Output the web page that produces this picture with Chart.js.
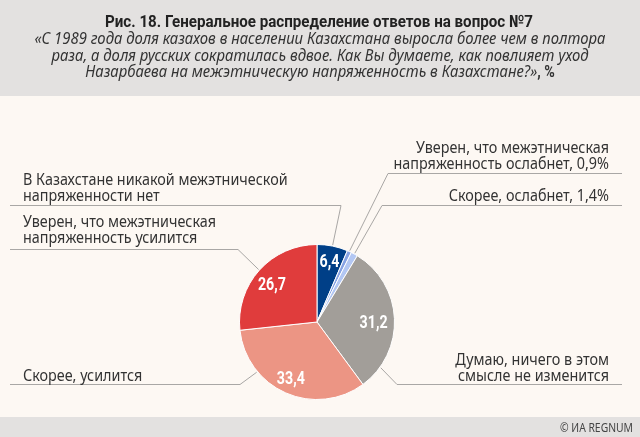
<!DOCTYPE html>
<html lang="ru">
<head>
  <meta charset="UTF-8">
  <title>Рис. 18</title>
  <script src="https://cdn.jsdelivr.net/npm/chart.js"></script>
  <style>
    body { margin: 0; padding: 0; background: #fdf8f3; }
    canvas { display: block; }
  </style>
</head>
<body>
  <canvas id="chart" width="640" height="437"></canvas>
  <script>
    // data (order: clockwise from 12 o'clock)
    const categories = [
      ['В Казахстане никакой межэтнической', 'напряженности нет'],
      ['Уверен, что межэтническая', 'напряженность ослабнет'],
      ['Скорее, ослабнет'],
      ['Думаю, ничего в этом', 'смысле не изменится'],
      ['Скорее, усилится'],
      ['Уверен, что межэтническая', 'напряженность усилится']
    ];
    const values = [6.4, 0.9, 1.4, 31.2, 33.4, 26.7];
    const colors = ['#003f87', '#87a3e4', '#b3c7f3', '#a29e99', '#ec9584', '#e03c3c'];

    const titleText = 'Рис. 18. Генеральное распределение ответов на вопрос №7';
    const subtitleLines = [
      '«С 1989 года доля казахов в населении Казахстана выросла более чем в полтора',
      'раза, а доля русских сократилась вдвое. Как Вы думаете, как повлияет уход',
      'Назарбаева на межэтническую напряженность в Казахстане?»'
    ];
    const sourceText = '© ИА REGNUM';

    // callout layout: where the text sits, where the leader line bends,
    // and where inside the slice (angle fraction / radius fraction) the value goes
    const callouts = [
      { side: 'left',  baselines: [185, 201], elbow: [341, 205], lineY: 205, at: 0.5,  vAt: 0.5,  vR: 0.8 },
      { side: 'right', baselines: [153, 169], elbow: [388, 173], lineY: 173, at: 0.5, withValue: true },
      { side: 'right', baselines: [201],      elbow: [382, 205], lineY: 205, at: 0.5, withValue: true },
      { side: 'right', baselines: [365, 381], elbow: [397, 384], lineY: 384, at: 0.84, vAt: 0.53, vR: 0.73 },
      { side: 'left',  baselines: [381],      elbow: [240, 384], lineY: 384, at: 0.72, vAt: 0.51, vR: 0.8 },
      { side: 'left',  baselines: [227, 243], elbow: [238, 249], lineY: 249, at: 0.5,  vAt: 0.48, vR: 0.76 }
    ];

    const fmt = v => v.toFixed(1).replace('.', ',');

    // draw text squeezed horizontally by sx
    function drawText(ctx, text, x, y, align, sx) {
      ctx.save();
      ctx.translate(x, y);
      ctx.scale(sx, 1);
      ctx.textAlign = align;
      ctx.fillText(text, 0, 0);
      ctx.restore();
    }
    function fitScale(ctx, font, text, width) {
      ctx.font = font;
      return width / ctx.measureText(text).width;
    }

    const FONT_TITLE = 'bold 17px Roboto, sans-serif';
    const FONT_SUB = 'italic 16px "Noto Sans", "Open Sans", sans-serif';
    const FONT_SUB_BOLD = 'bold 16px Roboto, sans-serif';
    const FONT_LABEL = '16px "Noto Sans", "Open Sans", sans-serif';
    const FONT_VALUE = 'bold 18px Roboto, sans-serif';
    const FONT_SOURCE = '13px "Noto Sans", sans-serif';

    const backdrop = {
      id: 'backdrop',
      beforeDraw(chart) {
        const ctx = chart.ctx;
        ctx.save();
        ctx.fillStyle = '#fdf8f3';
        ctx.fillRect(0, 0, 640, 437);
        ctx.fillStyle = '#e3e1e0';
        ctx.fillRect(0, 0, 640, 96);
        ctx.fillRect(0, 417, 640, 20);

        // header
        ctx.textBaseline = 'alphabetic';
        ctx.fillStyle = '#222';
        let sx = fitScale(ctx, FONT_TITLE, titleText, 428);
        drawText(ctx, titleText, 319, 27, 'center', sx);

        ctx.fillStyle = '#333';
        const ssx = fitScale(ctx, FONT_SUB, subtitleLines[0], 571);
        ctx.font = FONT_SUB;
        drawText(ctx, subtitleLines[0], 320, 44, 'center', ssx);
        drawText(ctx, subtitleLines[1], 320, 60.5, 'center', ssx);
        // last line: italic question + bold ", %"
        const wA = ctx.measureText(subtitleLines[2]).width * ssx;
        const tail = ', %';
        const bsx = fitScale(ctx, FONT_TITLE, titleText, 428);
        ctx.font = FONT_SUB_BOLD;
        const wB = ctx.measureText(tail).width * bsx;
        const x0 = 320 - (wA + wB) / 2;
        ctx.font = FONT_SUB;
        drawText(ctx, subtitleLines[2], x0, 77, 'left', ssx);
        ctx.font = FONT_SUB_BOLD;
        drawText(ctx, tail, x0 + wA, 77, 'left', bsx);

        // source
        ctx.fillStyle = '#444';
        sx = fitScale(ctx, FONT_SOURCE, sourceText, 73);
        drawText(ctx, sourceText, 633, 432, 'right', sx);
        ctx.restore();
      }
    };

    const callout = {
      id: 'callout',
      afterDatasetsDraw(chart) {
        const ctx = chart.ctx;
        const arcs = chart.getDatasetMeta(0).data;
        ctx.save();
        const lsx = fitScale(ctx, FONT_LABEL, 'Уверен, что межэтническая', 193);
        const vsx = fitScale(ctx, FONT_VALUE, '26,7', 28);

        arcs.forEach((arc, i) => {
          const c = callouts[i];
          const p = arc.getProps(['x', 'y', 'startAngle', 'endAngle', 'outerRadius']);
          const span = p.endAngle - p.startAngle;
          // leader line
          const a = p.startAngle + span * c.at;
          const ax = p.x + Math.cos(a) * (p.outerRadius + 1);
          const ay = p.y + Math.sin(a) * (p.outerRadius + 1);
          const endX = c.side === 'left' ? 10 : 622;
          ctx.strokeStyle = '#a9a7a5';
          ctx.lineWidth = 1;
          ctx.beginPath();
          ctx.moveTo(ax, ay);
          ctx.lineTo(c.elbow[0], c.lineY + 0.5);
          ctx.lineTo(endX, c.lineY + 0.5);
          ctx.stroke();

          // label text
          const lines = categories[i].slice();
          if (c.withValue) lines[lines.length - 1] += ', ' + fmt(values[i]) + '%';
          ctx.fillStyle = '#333';
          ctx.font = FONT_LABEL;
          lines.forEach((t, k) => {
            if (c.side === 'left') drawText(ctx, t, 23, c.baselines[k], 'left', lsx);
            else drawText(ctx, t, 609, c.baselines[k], 'right', lsx);
          });

          // value inside the slice
          if (values[i] > 5) {
            const m = p.startAngle + span * c.vAt;
            const r = p.outerRadius * c.vR;
            ctx.fillStyle = '#fff';
            ctx.font = FONT_VALUE;
            ctx.textBaseline = 'middle';
            drawText(ctx, fmt(values[i]), p.x + Math.cos(m) * r, p.y + Math.sin(m) * r + 1, 'center', vsx);
            ctx.textBaseline = 'alphabetic';
          }
        });
        ctx.restore();
      }
    };

    new Chart(document.getElementById('chart'), {
      type: 'pie',
      data: {
        labels: categories.map(l => l.join(' ')),
        datasets: [{
          data: values,
          backgroundColor: colors,
          borderColor: '#ffffff',
          borderWidth: 1
        }]
      },
      options: {
        responsive: false,
        animation: false,
        layout: { padding: { left: 239, right: 245, top: 244, bottom: 37 } },
        plugins: {
          legend: { display: false },
          tooltip: { enabled: false }
        }
      },
      plugins: [backdrop, callout]
    });
  </script>
</body>
</html>
